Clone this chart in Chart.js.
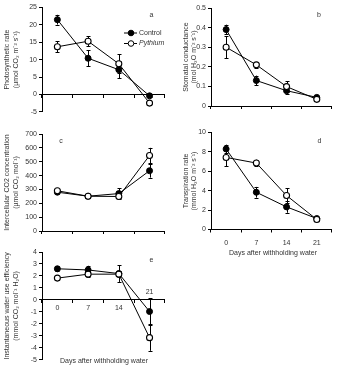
<!DOCTYPE html>
<html>
<head>
<meta charset="utf-8">
<script src="https://cdn.jsdelivr.net/npm/chart.js@4.4.0/dist/chart.umd.min.js"></script>
<style>
  html, body { margin: 0; padding: 0; background: #fff; }
  #wrap { position: relative; width: 337px; height: 366px; overflow: hidden; }
  canvas { position: absolute; }
</style>
</head>
<body>
<div id="wrap">
  <canvas id="pa" width="170" height="118" style="left:0;top:0"></canvas>
  <canvas id="pb" width="167" height="118" style="left:170px;top:0"></canvas>
  <canvas id="pc" width="170" height="118" style="left:0;top:120px"></canvas>
  <canvas id="pd" width="167" height="140" style="left:170px;top:120px"></canvas>
  <canvas id="pe" width="170" height="126" style="left:0;top:240px"></canvas>
</div>
<script>
// days after withholding water
const days = ['0', '7', '14', '21'];

// a: photosynthetic rate
const photoControl = [21.5, 10.4, 7.1, -0.4];
const photoControlErr = [1.4, 2.3, 2.4, 0.4];
const photoPythium = [13.7, 15.3, 8.8, -2.5];
const photoPythiumErr = [1.6, 1.5, 2.7, 0.4];

// b: stomatal conductance
const condControl = [0.39, 0.13, 0.078, 0.044];
const condControlErr = [0.025, 0.025, 0.015, 0.006];
const condPythium = [0.30, 0.21, 0.099, 0.034];
const condPythiumErr = [0.056, 0.015, 0.028, 0.005];

// c: intercellular CO2
const ciControl = [280, 251, 270, 435];
const ciControlErr = [10, 8, 40, 50];
const ciPythium = [290, 251, 249, 545];
const ciPythiumErr = [10, 8, 12, 55];

// d: transpiration rate
const transControl = [8.3, 3.84, 2.33, 1.13];
const transControlErr = [0.45, 0.55, 0.6, 0.15];
const transPythium = [7.43, 6.85, 3.5, 1.03];
const transPythiumErr = [0.9, 0.35, 0.75, 0.15];

// e: instantaneous water use efficiency
const wueControl = [2.6, 2.5, 2.2, -0.97];
const wueControlErr = [0.2, 0.35, 0.7, 1.1];
const wuePythium = [1.82, 2.15, 2.15, -3.15];
const wuePythiumErr = [0.15, 0.2, 0.25, 1.1];

Chart.defaults.font.family = '"Liberation Sans", Arial, sans-serif';
Chart.defaults.font.size = 7;
Chart.defaults.color = '#333';

// error bars behind the markers
const errorBars = {
	id: 'errorBars',
	beforeDatasetsDraw(chart) {
		const ctx = chart.ctx;
		const y = chart.scales.y;
		ctx.save();
		ctx.strokeStyle = '#000';
		ctx.lineWidth = 1;
		chart.data.datasets.forEach(function(ds, i) {
			chart.getDatasetMeta(i).data.forEach(function(pt, j) {
				const e = ds.errors[j];
				const top = y.getPixelForValue(ds.data[j] + e);
				const bot = y.getPixelForValue(ds.data[j] - e);
				const x = Math.round(pt.x) + 0.5;
				ctx.beginPath();
				ctx.moveTo(x, top);
				ctx.lineTo(x, bot);
				ctx.moveTo(x - 2, Math.round(top) + 0.5);
				ctx.lineTo(x + 2, Math.round(top) + 0.5);
				ctx.moveTo(x - 2, Math.round(bot) + 0.5);
				ctx.lineTo(x + 2, Math.round(bot) + 0.5);
				ctx.stroke();
			});
		});
		ctx.restore();
	}
};

// panel letters, legend and free labels
const panelText = {
	id: 'panelText',
	afterDraw(chart, args, opts) {
		const ctx = chart.ctx;
		ctx.save();
		ctx.fillStyle = '#333';
		ctx.textBaseline = 'middle';
		(opts.items || []).forEach(function(it) {
			let x = it.x, y = it.y;
			if (it.tick !== undefined) {
				x = chart.scales.x.getPixelForTick(it.tick);
				y = chart.scales.y.getPixelForValue(0) + it.dy;
			}
			ctx.font = '7px "Liberation Sans", Arial, sans-serif';
			ctx.textAlign = 'center';
			ctx.fillText(it.text, x, y);
		});
		if (opts.legend) {
			const lg = opts.legend;
			chart.data.datasets.forEach(function(ds, i) {
				const y = lg.y + i * lg.gap;
				ctx.strokeStyle = '#000';
				ctx.lineWidth = 1;
				ctx.beginPath();
				ctx.moveTo(lg.x, y + 0.5);
				ctx.lineTo(lg.x + 13, y + 0.5);
				ctx.stroke();
				ctx.beginPath();
				ctx.arc(lg.x + 7, y + 0.5, 2.8, 0, Math.PI * 2);
				ctx.fillStyle = ds.pointBackgroundColor;
				ctx.fill();
				ctx.stroke();
				ctx.fillStyle = '#333';
				ctx.textAlign = 'left';
				ctx.font = (ds.italic ? 'italic ' : '') + '7px "Liberation Sans", Arial, sans-serif';
				ctx.fillText(ds.label, lg.x + 15, y + 0.5);
			});
		}
		ctx.restore();
	}
};

function series(control, controlErr, pythium, pythiumErr) {
	return [{
		label: 'Control',
		data: control,
		errors: controlErr,
		order: 1,
		borderColor: '#000',
		borderWidth: 1,
		pointRadius: 3,
		pointBackgroundColor: '#000',
		pointBorderColor: '#000',
		pointBorderWidth: 1,
		tension: 0,
		fill: false
	}, {
		label: 'Pythium',
		italic: true,
		data: pythium,
		errors: pythiumErr,
		order: 0,
		borderColor: '#000',
		borderWidth: 1,
		pointRadius: 3,
		pointBackgroundColor: '#fff',
		pointBorderColor: '#000',
		pointBorderWidth: 1.1,
		tension: 0,
		fill: false
	}];
}

function makePanel(id, p) {
	const canvas = document.getElementById(id);
	const W = canvas.width, H = canvas.height;
	const a = p.area; // left, top, right, bottom of plot area in canvas px
	return new Chart(canvas, {
		type: 'line',
		data: { labels: days, datasets: p.datasets },
		plugins: [errorBars, panelText],
		options: {
			responsive: false,
			animation: false,
			devicePixelRatio: 1,
			layout: { padding: { top: a[1], right: W - a[2], left: 0, bottom: 0 } },
			plugins: {
				legend: { display: false },
				tooltip: { enabled: false },
				panelText: { items: p.texts, legend: p.legend }
			},
			scales: {
				x: {
					type: 'category',
					position: p.xPos,
					offset: true,
					grid: { offset: true, drawOnChartArea: false, color: '#000', tickLength: 3 },
					border: { color: '#000', width: 1 },
					ticks: {
						display: p.xLabels,
						padding: p.xPad || 1,
						color: '#333',
						callback: function(v, i) { return p.hideTick === i ? '' : days[i]; }
					},
					afterFit: function(s) { s.height = H - a[3]; }
				},
				y: {
					min: p.min,
					max: p.max,
					ticks: { stepSize: p.step, padding: 2, color: '#333' },
					grid: { drawOnChartArea: false, color: '#000', tickLength: 3 },
					border: { color: '#000', width: 1 },
					title: {
						display: true,
						text: p.yTitle,
						color: '#333',
						font: { size: 7, lineHeight: 1.2 },
						padding: { top: p.titlePad, bottom: 0 }
					},
					afterFit: function(s) { s.width = a[0]; }
				}
			}
		}
	});
}

makePanel('pa', {
	area: [42, 7.5, 166, 106.5],
	datasets: series(photoControl, photoControlErr, photoPythium, photoPythiumErr),
	min: -5, max: 25, step: 5,
	xPos: { y: 0 }, xLabels: false,
	yTitle: ['Photosynthetic rate', '(\u00b5mol CO\u2082 m\u207b\u00b2 s\u207b\u00b9)'],
	titlePad: 3.3,
	texts: [{ text: 'a', x: 151.5, y: 15 }],
	legend: { x: 124, y: 32.5, gap: 10.5 }
});

makePanel('pb', {
	area: [41, 8, 165, 106],
	datasets: series(condControl, condControlErr, condPythium, condPythiumErr),
	min: 0, max: 0.5, step: 0.1,
	xPos: 'bottom', xLabels: false,
	yTitle: ['Stomatal conductance', '(mol H\u2082O m\u207b\u00b2 s\u207b\u00b9)'],
	titlePad: 11.5,
	texts: [{ text: 'b', x: 149, y: 15 }]
});

makePanel('pc', {
	area: [42, 14, 166, 111],
	datasets: series(ciControl, ciControlErr, ciPythium, ciPythiumErr),
	min: 0, max: 700, step: 100,
	xPos: 'bottom', xLabels: false,
	yTitle: ['Intercellular CO2 concentration', '(\u00b5mol CO\u2082 mol\u207b\u00b9)'],
	titlePad: 3.3,
	texts: [{ text: 'c', x: 61, y: 21 }]
});

makePanel('pd', {
	area: [41, 12.5, 165, 109.5],
	datasets: series(transControl, transControlErr, transPythium, transPythiumErr),
	min: 0, max: 10, step: 2,
	xPos: 'bottom', xLabels: true, xPad: 6.5,
	yTitle: ['Transpiration rate', '(mmol H\u2082O m\u207b\u00b2 s\u207b\u00b9)'],
	titlePad: 11.5,
	texts: [{ text: 'd', x: 149.5, y: 21 }, { text: 'Days after withholding water', x: 103, y: 133 }]
});

makePanel('pe', {
	area: [42, 12, 166, 110],
	datasets: series(wueControl, wueControlErr, wuePythium, wuePythiumErr),
	min: -5, max: 4, step: 1,
	xPos: { y: 0 }, xLabels: true, xPad: 1, hideTick: 3,
	yTitle: ['Instantaneous water use efficiency', '(mmol CO\u2082 mol\u207b\u00b9 H\u2082O)'],
	titlePad: 3.3,
	texts: [{ text: 'e', x: 151.5, y: 20 }, { text: '21', tick: 3, dy: -8 }, { text: 'Days after withholding water', x: 104, y: 121 }]
});
</script>
</body>
</html>
